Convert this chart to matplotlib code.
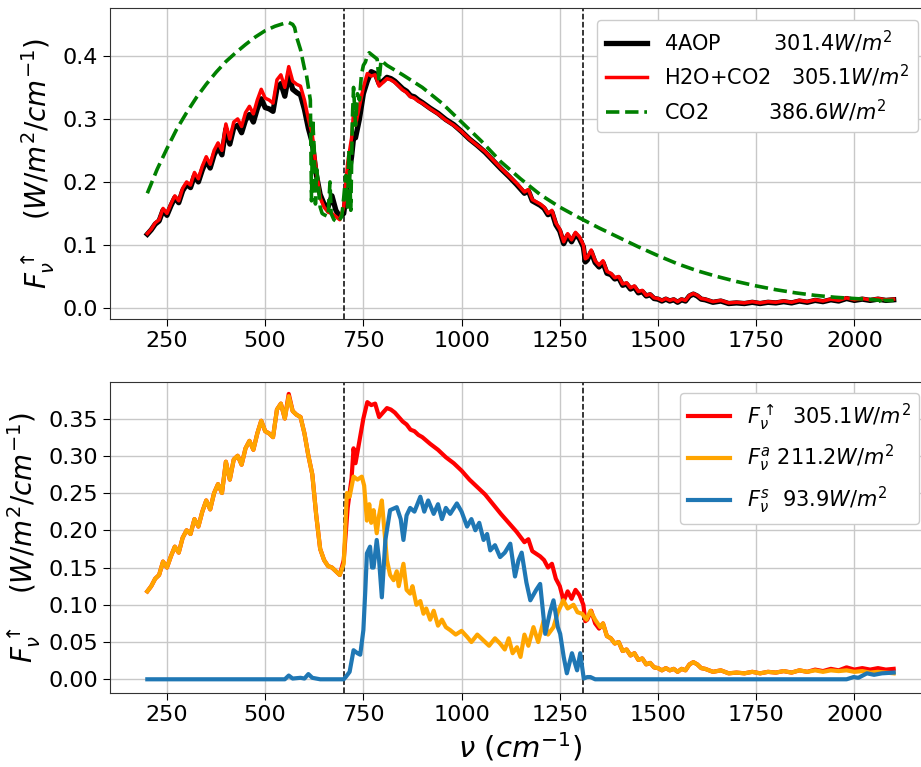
import matplotlib
matplotlib.use("Agg")
import matplotlib.pyplot as plt

# ---------------- data ----------------
nu_h2o = [200, 210, 220, 230, 240, 250, 260, 270, 280, 290, 300, 310, 320, 330, 340, 350, 360, 370, 380, 390,
          400, 410, 420, 430, 440, 450, 460, 470, 480, 490, 500, 510, 520, 530, 540, 550, 560, 570, 580, 590,
          600, 610, 620, 630, 640, 650, 660, 670, 680, 690, 700, 710, 720, 725, 730, 740, 750, 760, 770, 780,
          790, 800, 810, 820, 830, 840, 850, 860, 870, 880, 890, 900, 920, 940, 960, 980, 1000, 1020, 1040, 1060,
          1080, 1100, 1120, 1140, 1160, 1170, 1180, 1200, 1210, 1220, 1230, 1240, 1250, 1260, 1270, 1280, 1290, 1300, 1310, 1315,
          1320, 1330, 1340, 1350, 1360, 1370, 1380, 1390, 1400, 1410, 1420, 1430, 1440, 1450, 1460, 1470, 1480, 1490, 1500, 1510,
          1520, 1530, 1540, 1550, 1560, 1570, 1580, 1590, 1600, 1610, 1620, 1640, 1660, 1680, 1700, 1720, 1740, 1760, 1780, 1800,
          1820, 1840, 1860, 1880, 1900, 1920, 1940, 1960, 1980, 2000, 2020, 2040, 2060, 2080, 2100]

flux_h2o_co2 = [0.118, 0.125, 0.135, 0.140, 0.158, 0.150, 0.165, 0.178, 0.170, 0.190, 0.200, 0.195, 0.215, 0.205, 0.225, 0.240, 0.228, 0.250, 0.262, 0.250,
                0.292, 0.268, 0.295, 0.300, 0.288, 0.310, 0.320, 0.308, 0.330, 0.347, 0.333, 0.330, 0.325, 0.362, 0.370, 0.350, 0.383, 0.360, 0.355, 0.352,
                0.330, 0.300, 0.275, 0.220, 0.175, 0.160, 0.152, 0.150, 0.145, 0.140, 0.160, 0.230, 0.270, 0.310, 0.290, 0.320, 0.350, 0.372, 0.368, 0.370,
                0.352, 0.358, 0.364, 0.362, 0.358, 0.352, 0.346, 0.342, 0.335, 0.333, 0.328, 0.325, 0.316, 0.308, 0.298, 0.290, 0.280, 0.268, 0.258, 0.248,
                0.235, 0.222, 0.210, 0.198, 0.184, 0.188, 0.172, 0.165, 0.160, 0.150, 0.155, 0.135, 0.125, 0.105, 0.118, 0.108, 0.120, 0.113, 0.100, 0.078,
                0.080, 0.092, 0.075, 0.068, 0.075, 0.058, 0.055, 0.048, 0.050, 0.038, 0.040, 0.032, 0.035, 0.026, 0.028, 0.020, 0.022, 0.016, 0.015, 0.012,
                0.015, 0.012, 0.014, 0.010, 0.014, 0.012, 0.020, 0.023, 0.020, 0.015, 0.014, 0.010, 0.012, 0.008, 0.009, 0.008, 0.010, 0.008, 0.010, 0.009,
                0.011, 0.009, 0.012, 0.010, 0.013, 0.011, 0.014, 0.012, 0.016, 0.013, 0.015, 0.013, 0.015, 0.013, 0.014]

flux_4aop = [0.117, 0.124, 0.133, 0.138, 0.155, 0.147, 0.162, 0.175, 0.167, 0.186, 0.196, 0.191, 0.210, 0.200, 0.219, 0.234, 0.222, 0.243, 0.255, 0.243,
             0.284, 0.260, 0.286, 0.290, 0.278, 0.298, 0.307, 0.295, 0.316, 0.332, 0.318, 0.316, 0.312, 0.348, 0.356, 0.336, 0.370, 0.347, 0.342, 0.338,
             0.315, 0.285, 0.262, 0.212, 0.180, 0.165, 0.160, 0.178, 0.155, 0.145, 0.150, 0.200, 0.240, 0.270, 0.270, 0.300, 0.340, 0.360, 0.375, 0.372,
             0.356, 0.360, 0.366, 0.364, 0.360, 0.354, 0.348, 0.344, 0.337, 0.335, 0.330, 0.326, 0.317, 0.309, 0.299, 0.291, 0.280, 0.268, 0.258, 0.247,
             0.234, 0.221, 0.209, 0.196, 0.182, 0.186, 0.170, 0.163, 0.158, 0.148, 0.152, 0.132, 0.122, 0.102, 0.115, 0.105, 0.117, 0.110, 0.097, 0.073,
             0.076, 0.089, 0.072, 0.065, 0.072, 0.055, 0.053, 0.046, 0.048, 0.036, 0.038, 0.030, 0.033, 0.024, 0.026, 0.019, 0.021, 0.015, 0.014, 0.011,
             0.014, 0.011, 0.013, 0.009, 0.013, 0.011, 0.019, 0.022, 0.019, 0.014, 0.013, 0.009, 0.011, 0.007, 0.008, 0.007, 0.009, 0.007, 0.009, 0.008,
             0.010, 0.008, 0.011, 0.009, 0.012, 0.010, 0.013, 0.011, 0.015, 0.012, 0.014, 0.012, 0.014, 0.012, 0.013]

nu_co2 = [200, 225, 250, 275, 300, 325, 350, 375, 400, 425, 450, 475, 500, 525, 550, 560, 570, 575, 580, 590,
          600, 605, 610, 615, 618, 621, 625, 628, 631, 635, 640, 645, 650, 660, 665, 668, 675, 685, 695, 700,
          705, 710, 713, 718, 722, 725, 730, 735, 740, 745, 750, 755, 760, 765, 775, 785, 790, 795, 810, 850,
          900, 950, 1000, 1050, 1100, 1150, 1200, 1250, 1300, 1350, 1400, 1450, 1500, 1550, 1600, 1650, 1700, 1750, 1800, 1850,
          1900, 1950, 2000, 2050, 2065, 2070, 2075, 2100]
flux_co2 = [0.182, 0.220, 0.253, 0.284, 0.310, 0.334, 0.355, 0.374, 0.391, 0.405, 0.418, 0.430, 0.440, 0.447, 0.452, 0.453, 0.450, 0.445, 0.430, 0.410,
            0.380, 0.370, 0.350, 0.330, 0.170, 0.300, 0.250, 0.165, 0.220, 0.200, 0.160, 0.150, 0.148, 0.145, 0.200, 0.150, 0.140, 0.136, 0.145, 0.175,
            0.210, 0.160, 0.250, 0.155, 0.300, 0.350, 0.290, 0.340, 0.330, 0.370, 0.385, 0.390, 0.400, 0.405, 0.400, 0.395, 0.360, 0.393, 0.385, 0.370,
            0.350, 0.325, 0.295, 0.265, 0.232, 0.205, 0.180, 0.160, 0.143, 0.127, 0.112, 0.097, 0.083, 0.070, 0.059, 0.050, 0.042, 0.035, 0.029, 0.024,
            0.020, 0.017, 0.015, 0.013, 0.012, 0.006, 0.012, 0.012]

nu_atm = [200, 210, 220, 230, 240, 250, 260, 270, 280, 290, 300, 310, 320, 330, 340, 350, 360, 370, 380, 390,
          400, 410, 420, 430, 440, 450, 460, 470, 480, 490, 500, 510, 520, 530, 540, 550, 560, 570, 580, 590,
          600, 610, 620, 630, 640, 650, 660, 670, 680, 690, 700, 708, 715, 725, 735, 746, 752, 759, 765, 770,
          776, 784, 790, 797, 805, 810, 818, 827, 835, 840, 852, 860, 869, 875, 885, 895, 903, 910, 920, 929,
          940, 950, 960, 971, 985, 1000, 1014, 1025, 1040, 1056, 1070, 1085, 1098, 1110, 1120, 1130, 1141, 1150, 1160, 1170,
          1183, 1195, 1209, 1220, 1234, 1245, 1259, 1270, 1285, 1295, 1307, 1318, 1328, 1340, 1353, 1360, 1370, 1380, 1390, 1400,
          1410, 1420, 1430, 1440, 1450, 1460, 1470, 1480, 1490, 1500, 1510, 1520, 1530, 1540, 1550, 1560, 1570, 1580, 1590, 1600,
          1610, 1620, 1640, 1660, 1680, 1700, 1720, 1740, 1760, 1780, 1800, 1820, 1840, 1860, 1880, 1900, 1920, 1940, 1960, 1980,
          2000, 2020, 2040, 2060, 2080, 2100]
flux_atm = [0.118, 0.125, 0.135, 0.140, 0.158, 0.150, 0.165, 0.178, 0.170, 0.190, 0.200, 0.195, 0.215, 0.205, 0.225, 0.240, 0.228, 0.250, 0.262, 0.250,
            0.292, 0.268, 0.295, 0.300, 0.288, 0.310, 0.320, 0.308, 0.330, 0.347, 0.333, 0.330, 0.325, 0.362, 0.370, 0.350, 0.380, 0.360, 0.355, 0.352,
            0.330, 0.300, 0.275, 0.220, 0.175, 0.160, 0.152, 0.150, 0.145, 0.140, 0.155, 0.250, 0.245, 0.272, 0.268, 0.272, 0.260, 0.213, 0.235, 0.210,
            0.227, 0.196, 0.220, 0.240, 0.190, 0.160, 0.140, 0.133, 0.145, 0.125, 0.155, 0.120, 0.115, 0.125, 0.100, 0.105, 0.088, 0.095, 0.080, 0.092,
            0.072, 0.080, 0.070, 0.066, 0.060, 0.065, 0.057, 0.050, 0.060, 0.052, 0.045, 0.055, 0.048, 0.040, 0.055, 0.035, 0.043, 0.030, 0.060, 0.045,
            0.070, 0.050, 0.079, 0.060, 0.070, 0.090, 0.106, 0.095, 0.100, 0.090, 0.088, 0.080, 0.092, 0.080, 0.070, 0.075, 0.058, 0.055, 0.048, 0.050,
            0.038, 0.040, 0.032, 0.035, 0.026, 0.028, 0.020, 0.022, 0.016, 0.015, 0.012, 0.015, 0.012, 0.014, 0.010, 0.014, 0.012, 0.020, 0.023, 0.020,
            0.015, 0.014, 0.010, 0.012, 0.008, 0.009, 0.008, 0.010, 0.008, 0.010, 0.009, 0.011, 0.009, 0.012, 0.010, 0.012, 0.010, 0.012, 0.011, 0.012,
            0.010, 0.011, 0.009, 0.010, 0.009, 0.008]

nu_sfc = [200, 550, 560, 570, 590, 600, 610, 620, 640, 700, 705, 715, 725, 735, 742, 750, 755, 759, 767, 772,
          776, 784, 790, 797, 806, 818, 835, 845, 852, 860, 869, 880, 895, 905, 915, 929, 940, 950, 960, 971,
          988, 1000, 1014, 1025, 1035, 1045, 1056, 1065, 1073, 1085, 1098, 1110, 1124, 1136, 1145, 1153, 1165, 1175, 1190, 1200,
          1213, 1225, 1234, 1245, 1251, 1260, 1268, 1281, 1294, 1302, 1311, 1320, 1328, 1340, 1980, 1998, 2010, 2032, 2050, 2070, 2100]
flux_sfc = [0.000, 0.000, 0.005, 0.001, 0.002, 0.001, 0.007, 0.002, 0.000, 0.000, 0.003, 0.010, 0.039, 0.035, 0.033, 0.066, 0.120, 0.169, 0.178, 0.150,
            0.150, 0.187, 0.160, 0.110, 0.187, 0.227, 0.231, 0.215, 0.187, 0.220, 0.230, 0.225, 0.245, 0.225, 0.240, 0.222, 0.235, 0.215, 0.230, 0.222,
            0.236, 0.225, 0.205, 0.215, 0.200, 0.210, 0.187, 0.195, 0.173, 0.180, 0.164, 0.170, 0.182, 0.138, 0.160, 0.170, 0.130, 0.106, 0.120, 0.128,
            0.061, 0.090, 0.106, 0.070, 0.061, 0.030, 0.008, 0.035, 0.012, 0.035, 0.001, 0.003, 0.003, 0.000, 0.000, 0.003, 0.002, 0.008, 0.006, 0.008, 0.009]

label_4aop = "4AOP        301.4$W/m^2$"
label_h2o = "H2O+CO2   305.1$W/m^2$"
label_co2 = "CO2         386.6$W/m^2$"
label_up = "$F_\\nu^\\uparrow$  305.1$W/m^2$"
label_a = "$F_\\nu^a$ 211.2$W/m^2$"
label_s = "$F_\\nu^s$  93.9$W/m^2$"

xticks = [250, 500, 750, 1000, 1250, 1500, 1750, 2000]
yticks_top = [0.0, 0.1, 0.2, 0.3, 0.4]
yticks_bot = [0.00, 0.05, 0.10, 0.15, 0.20, 0.25, 0.30, 0.35]
vlines = [700, 1310]

# ---------------- figure ----------------
W, H = 921, 767
fig = plt.figure(figsize=(W / 100, H / 100), dpi=100)

def frac(l, t, r, b):
    return [l / W, 1 - b / H, (r - l) / W, (b - t) / H]

ax1 = fig.add_axes(frac(110, 8, 931, 319))
ax2 = fig.add_axes(frac(110, 382, 931, 693))

for ax in (ax1, ax2):
    ax.set_xlim(105, 2195)
    ax.set_xticks(xticks)
    ax.grid(True, color="#c8c8c8", lw=1.0)
    ax.set_axisbelow(True)
    ax.tick_params(labelsize=16, length=5)
    for s in ax.spines.values():
        s.set_color("#333333")
    for v in vlines:
        ax.axvline(v, color="black", ls="--", lw=1.1)

ax1.plot(nu_h2o, flux_4aop, color="black", lw=3.8, label=label_4aop)
ax1.plot(nu_h2o, flux_h2o_co2, color="red", lw=2.5, label=label_h2o)
ax1.plot(nu_co2, flux_co2, color="green", lw=2.6, ls="--", label=label_co2)
ax1.set_ylim(-0.0175, 0.476)
ax1.set_yticks(yticks_top)
ax1.set_yticklabels(["0.0", "0.1", "0.2", "0.3", "0.4"])
ax1.set_ylabel("$F_\\nu^\\uparrow$   $(W/m^2/cm^{-1})$", fontsize=20)
ax1.legend(loc="upper right", bbox_to_anchor=(918 / W, 1 - 20 / H), bbox_transform=fig.transFigure,
           borderaxespad=0, fontsize=15, framealpha=1.0, labelspacing=0.4)

ax2.plot(nu_h2o, flux_h2o_co2, color="red", lw=3, label=label_up)
ax2.plot(nu_atm, flux_atm, color="orange", lw=3, label=label_a)
ax2.plot(nu_sfc, flux_sfc, color="#1f77b4", lw=3, label=label_s)
ax2.set_ylim(-0.0184, 0.399)
ax2.set_yticks(yticks_bot)
ax2.set_yticklabels(["0.00", "0.05", "0.10", "0.15", "0.20", "0.25", "0.30", "0.35"])
ax2.set_ylabel("$F_\\nu^\\uparrow$   $(W/m^2/cm^{-1})$", fontsize=20)
ax2.set_xlabel("$\\nu\\ (cm^{-1})$", fontsize=21)
ax2.legend(loc="upper right", bbox_to_anchor=(919 / W, 1 - 393 / H), bbox_transform=fig.transFigure,
           borderaxespad=0, fontsize=15, framealpha=1.0)

fig.savefig("out.png", dpi=100)
